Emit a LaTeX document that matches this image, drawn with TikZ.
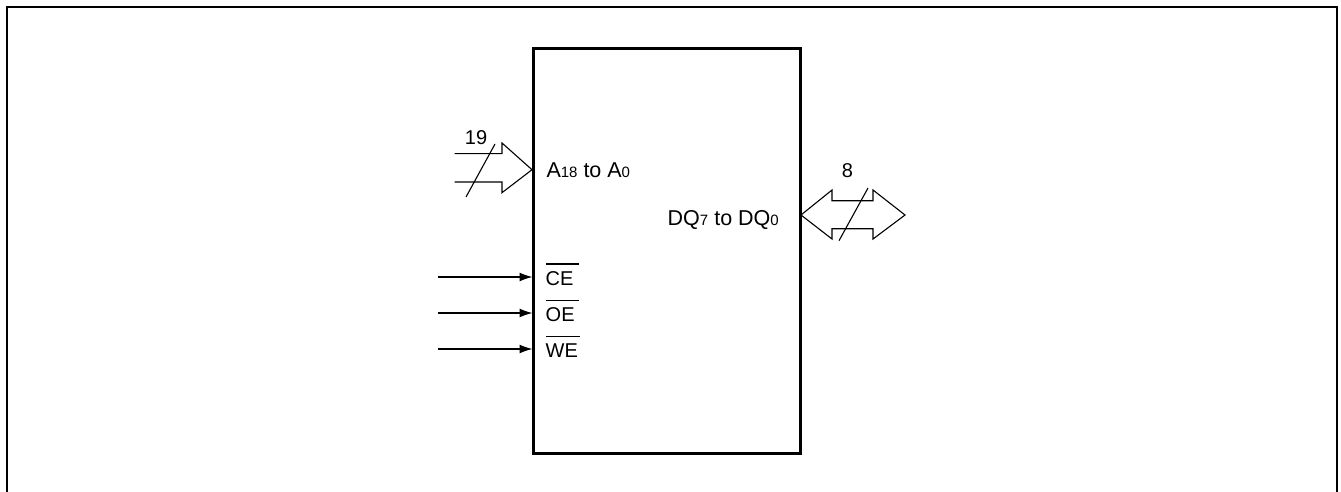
\documentclass[tikz,border=0pt]{standalone}
\usepackage{fontspec}
\setmainfont{Liberation Sans}
\usetikzlibrary{arrows.meta}
\newcommand{\sbs}[1]{{\fontsize{15}{16}\selectfont #1}}
\tikzset{
  frame/.style={line width=2pt},
  chip/.style={draw,line width=2.6pt,minimum width=267.5pt,minimum height=405.5pt,inner sep=0pt},
  lbl/.style={inner sep=0pt,font=\fontsize{21.5}{22}\selectfont,anchor=base west},
  ctl/.style={inner sep=0pt,font=\fontsize{20}{22}\selectfont,anchor=base west},
  bus/.style={line width=1.1pt,line join=miter},
  sig/.style={line width=1.3pt,-{Latex[length=13pt,width=9pt]}},
  bar/.style={line width=1.1pt}
}
\begin{document}
\begin{tikzpicture}[x=1pt,y=-1pt]
\useasboundingbox (0,0) rectangle (1341,492);
\draw[frame] (7,492) -- (7,7) -- (1337,7) -- (1337,492);
\node[chip] (chip) at (667,251) {};
% labels
\node[lbl] (addr) at (546.3,177) {A\sbs{18} to A\sbs{0}};
\node[lbl] (dq) at (667.5,225) {DQ\sbs{7} to DQ\sbs{0}};
\node[ctl] (ce) at (545.5,285) {CE};
\node[ctl] (oe) at (545.5,321.5) {OE};
\node[ctl] (we) at (545.5,357.5) {WE};
\node[ctl,anchor=base] (n19) at (476,144.3) {19};
\node[ctl,anchor=base] (n8) at (847.5,177.5) {8};
% overbars
\draw[bar] (546,264) -- (579,264);
\draw[bar] (546,300.5) -- (579,300.5);
\draw[bar] (546,336.5) -- (580,336.5);
% control inputs
\coordinate (cein) at (438,277);
\coordinate (oein) at (438,313);
\coordinate (wein) at (438,349);
\coordinate (ceend) at (532.5,277);
\coordinate (oeend) at (532.5,313);
\coordinate (weend) at (532.5,349);
\draw[sig] (cein) -- (ceend);
\draw[sig] (oein) -- (oeend);
\draw[sig] (wein) -- (weend);
% address bus
\draw[bus] (454.7,153.7) -- (502,153.7) -- (502,143) -- (532,169.7) -- (502,192.7) -- (502,182) -- (454.7,182);
\draw[bus] (495,144) -- (466,197);
% data bus
\draw[bus] (801,215) -- (832,190) -- (832,200.7) -- (873,200.7) -- (873,190) -- (905,215) -- (873,239) -- (873,228.7) -- (832,228.7) -- (832,239) -- cycle;
\draw[bus] (868,188) -- (839,240.7);
\end{tikzpicture}
\end{document}
